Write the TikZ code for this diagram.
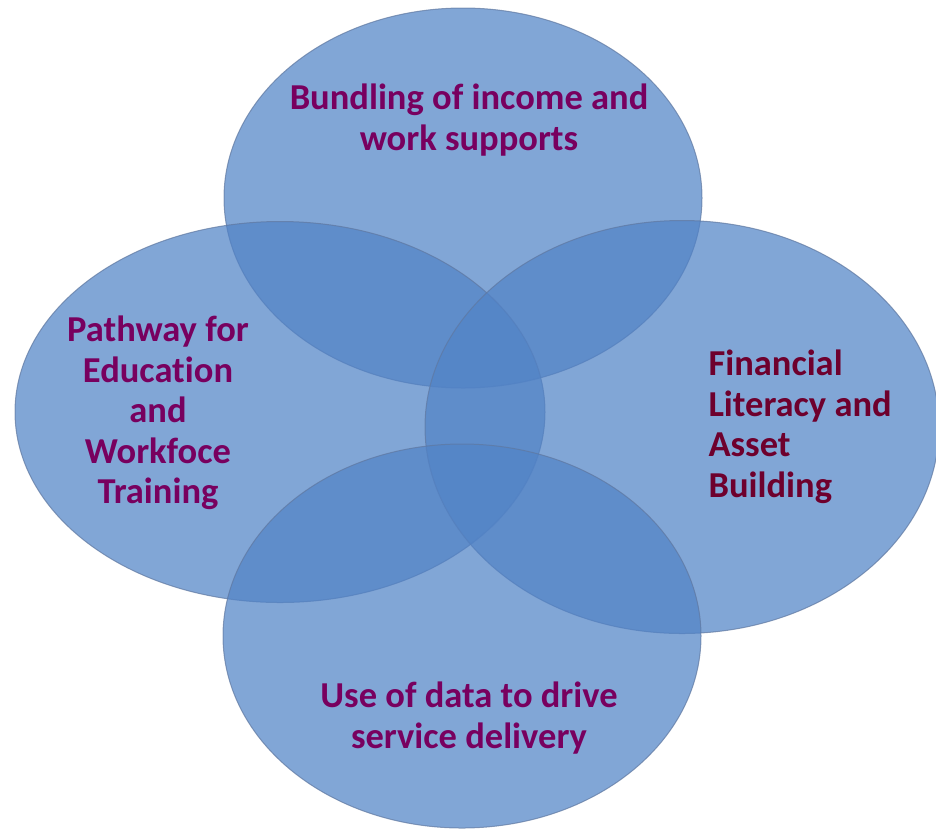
\documentclass[tikz,border=0pt]{standalone}
\usepackage{fontspec}
\setmainfont{Carlito}[Ligatures=NoCommon]
\usepackage{xcolor}
\usetikzlibrary{shapes.geometric}
\definecolor{bubblefill}{RGB}{81,131,198}
\definecolor{bubbleline}{RGB}{95,120,160}
\definecolor{plum}{RGB}{120,0,95}
\definecolor{wine}{RGB}{110,0,45}
\tikzset{
 bubble/.style={ellipse,inner sep=0pt,fill=bubblefill,fill opacity=0.72,
   draw=bubbleline,draw opacity=0.7,line width=1pt},
 caption/.style={font=\bfseries\fontsize{36.5}{40.5}\selectfont,text=plum,align=center},
}

\begin{document}
\begin{tikzpicture}[x=1pt,y=-1pt]
        \useasboundingbox (0,0) rectangle (936,831);
        % the four circles
        \node[bubble,minimum width=478pt,minimum height=380pt] (income) at (463,198) {};
        \node[bubble,minimum width=530pt,minimum height=381pt] (pathway) at (280,412) {};
        \node[bubble,minimum width=514pt,minimum height=413pt] (finance) at (682,427) {};
        \node[bubble,minimum width=478pt,minimum height=384pt] (data) at (462,636) {};
        % labels
        \node[caption] (incometext) at (469,120) {Bundling of income and\\work supports};
        \node[caption] (pathwaytext) at (158,413) {Pathway for\\Education\\and\\Workfoce\\Training};
        \node[caption,text=wine,align=left,anchor=west] (financetext) at (705,427) {Financial\\Literacy and\\Asset\\Building};
        \node[caption] (datatext) at (469,718) {Use of data to drive\\service delivery};
    \end{tikzpicture}
\end{document}
